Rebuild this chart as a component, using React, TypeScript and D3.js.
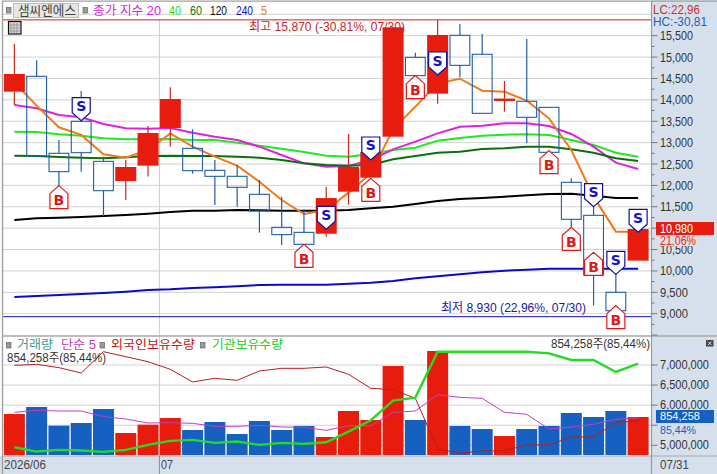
import * as d3 from "d3";

const width = 717,
	height = 474;

// 일봉 29개 (2026/06 ~ 07/31)
const opens = [14191, 14550, 12750, 13498, 12562, 12103, 12462, 13342, 12866, 12352, 12212, 11791, 11020, 10902, 10870, 11853, 12181, 13139, 14994, 14145, 15509, 15065, 14000, 13966, 13825, 12072, 11300, 9500, 10240];
const closes = [14605, 12688, 12321, 12765, 11876, 12430, 13226, 14020, 12344, 12212, 11955, 11401, 10849, 10622, 11704, 12430, 12781, 15696, 14566, 15517, 14807, 13685, 14030, 13592, 12773, 11207, 9905, 9070, 10980];
const highs = [15305, 14924, 13061, 14207, 12670, 12594, 13389, 14293, 13311, 12594, 12476, 12126, 11736, 11440, 11961, 13202, 12900, 15696, 15100, 15870, 15774, 15540, 14441, 15423, 13825, 12165, 11503, 9928, 10980];
const lows = [13880, 12688, 11994, 12321, 11284, 11658, 12205, 12905, 12274, 11541, 11502, 10895, 10606, 10622, 10800, 11549, 12181, 13139, 14566, 13910, 14527, 13685, 13724, 12984, 12773, 10996, 9190, 8930, 10240];

const ma5 = [14410, 13864, 13358, 13180, 12727, 12649, 12828, 13217, 12906, 12672, 12461, 12087, 11659, 11331, 11425, 11830, 12282, 13311, 13841, 14386, 14495, 14215, 14192, 13981, 13568, 12827, 11737, 10919, 10919];
const ma20 = [13880, 13802, 13646, 13591, 13435, 13334, 13326, 13342, 13233, 13139, 13061, 12905, 12710, 12516, 12438, 12453, 12594, 12843, 13022, 13217, 13373, 13396, 13451, 13451, 13389, 13202, 12905, 12531, 12383];
const ma40 = [13256, 13249, 13194, 13163, 13101, 13077, 13077, 13085, 13061, 13061, 12999, 12929, 12859, 12781, 12695, 12672, 12734, 12828, 12882, 13046, 13108, 13163, 13186, 13194, 13178, 13061, 12945, 12765, 12672];
const ma60 = [12695, 12687, 12664, 12648, 12633, 12656, 12687, 12695, 12687, 12687, 12672, 12648, 12594, 12516, 12477, 12461, 12477, 12610, 12687, 12765, 12789, 12851, 12867, 12906, 12906, 12843, 12765, 12633, 12571];
const ma120 = [11191, 11230, 11246, 11261, 11285, 11308, 11339, 11378, 11409, 11409, 11425, 11417, 11409, 11409, 11409, 11425, 11464, 11503, 11565, 11635, 11682, 11705, 11736, 11768, 11799, 11807, 11760, 11705, 11705];
const ma240 = [9390, 9414, 9437, 9461, 9484, 9515, 9554, 9570, 9601, 9616, 9640, 9671, 9679, 9679, 9679, 9702, 9725, 9764, 9827, 9874, 9920, 9967, 10006, 10029, 10053, 10053, 10053, 10053, 10053];

// 거래량, 단순 5
const volumes = [921000, 1079000, 659000, 719000, 1034000, 495000, 682000, 832000, 562000, 742000, 472000, 764000, 562000, 652000, 405000, 989000, 787000, 2001000, 787000, 2338000, 652000, 584000, 427000, 584000, 652000, 944000, 854258, 989000, 854258];
const volMa5 = [959000, 1004000, 989000, 989000, 862000, 809000, 719000, 727000, 712000, 644000, 644000, 667000, 629000, 622000, 554000, 659000, 659000, 959000, 989000, 1356000, 1296000, 1274000, 959000, 914000, 584000, 629000, 689000, 802000, 839000];

// 보유수량
const foreignHold = [6991700, 7016600, 6933700, 6801000, 7331700, 7207300, 7082900, 6892200, 6577000, 6668300, 6618600, 6850700, 6917100, 6917100, 6950200, 6767800, 6419600, 6386400, 6170800, 4910400, 4802600, 4860600, 4860600, 5009900, 5009900, 5208900, 5208900, 5565500, 5606900];
const instHold = [4951800, 4844000, 4885500, 4869000, 4835800, 4885500, 5009900, 5109400, 5134300, 5059700, 5092800, 5009900, 5059700, 5034800, 5076300, 5341600, 5623500, 6112800, 6187400, 7331700, 7331700, 7331700, 7331700, 7331700, 7290200, 7124400, 7124400, 6825900, 7033200];

// 매수/매도 신호 (봉 번호, 꼭지 가격)
const buyIdx = [2, 13, 16, 18, 24, 25, 26, 27];
const buyPrice = [11994, 10622, 12165, 14566, 12812, 11019, 10435, 9188];
const sellIdx = [3, 14, 16, 19, 26, 27, 28];
const sellPrice = [13513, 10973, 12594, 14581, 11503, 9920, 10903];

const priceTicks = [16000, 15500, 15000, 14500, 14000, 13500, 13000, 12500, 12000, 11500, 11000, 10500, 10000, 9500, 9000];
const priceLabels = [15500, 15000, 14500, 14000, 13500, 13000, 12500, 12000, 11500, 10500, 10000, 9500, 9000];
const holdTicks = [7000000, 6500000, 6000000, 5500000, 5000000];

const RED = "#e81c0c",
	BLUE = "#1560c0",
	FONT = "Liberation Sans, Noto Sans CJK KR, sans-serif";

const plotRight = 651.5;

const x = d3
	.scaleBand<number>()
	.domain(d3.range(29))
	.range([3.2, 649.3])
	.paddingInner(0.057)
	.paddingOuter(0.03);
const cx = (i: number) => (x(i) as number) + x.bandwidth() / 2;

const yPrice = d3.scaleLinear().domain([15500, 9000]).range([35.7, 313.7]);
const yHold = d3.scaleLinear().domain([7000000, 5000000]).range([365, 445.3]);
const yVol = d3.scaleLinear().domain([0, 854258]).range([455, 417]);

const num = d3.format(",");

const priceLine = (vals: number[]) =>
	d3
		.line<number>()
		.x((_, i) => cx(i))
		.y((d) => yPrice(d))(vals) as string;
const volLine = (vals: number[]) =>
	d3
		.line<number>()
		.x((_, i) => cx(i))
		.y((d) => yVol(d))(vals) as string;
const holdLine = (vals: number[]) =>
	d3
		.line<number>()
		.x((_, i) => cx(i))
		.y((d) => yHold(d))(vals) as string;

// 글자 폭을 원본에 맞춘다
const Txt = ({ x, y, w, fill = "#333", size = 12.5, anchor = "start", weight = "normal", children }: any) => (
	<text
		x={x}
		y={y}
		fill={fill}
		fontSize={size}
		fontFamily={FONT}
		fontWeight={weight}
		textAnchor={anchor}
		dominantBaseline="central"
		textLength={w}
		lengthAdjust="spacingAndGlyphs"
	>
		{children}
	</text>
);

const Marker = ({ i, price, kind }: any) => {
	const px = cx(i);
	const py = yPrice(price);
	const c = kind === "B" ? "#e01818" : "#10109a";
	// B는 꼭지가 위, S는 꼭지가 아래
	const dir = kind === "B" ? 1 : -1;
	const pts = [
		[px, py],
		[px + 9, py + dir * 8],
		[px + 9, py + dir * 23],
		[px - 9, py + dir * 23],
		[px - 9, py + dir * 8],
	];
	return (
		<g>
			<polygon points={pts.map((p) => p.join(",")).join(" ")} fill="#fff" stroke={c} strokeWidth={1.2} />
			<text
				x={px}
				y={py + dir * 14.5}
				fill={kind === "B" ? "#e01818" : "#1414c8"}
				fontSize={14}
				fontWeight="bold"
				fontFamily="DejaVu Sans, sans-serif"
				textAnchor="middle"
				dominantBaseline="central"
			>
				{kind}
			</text>
		</g>
	);
};

const Candle = ({ i }: any) => {
	const up = closes[i] >= opens[i];
	const color = up ? RED : "#1f5fa8";
	const top = yPrice(Math.max(opens[i], closes[i]));
	const bottom = yPrice(Math.min(opens[i], closes[i]));
	const left = x(i) as number;
	return (
		<g>
			<line x1={cx(i)} x2={cx(i)} y1={yPrice(highs[i])} y2={top} stroke={up ? "#c8281c" : color} strokeWidth={1.2} />
			<line x1={cx(i)} x2={cx(i)} y1={bottom} y2={yPrice(lows[i])} stroke={up ? "#c8281c" : color} strokeWidth={1.2} />
			{up ? (
				<rect x={left} y={top} width={x.bandwidth()} height={Math.max(bottom - top, 2.4)} fill={RED} />
			) : (
				<rect x={left + 0.6} y={top} width={x.bandwidth() - 1.2} height={bottom - top} fill="none" stroke={color} strokeWidth={1.1} />
			)}
		</g>
	);
};

const Square = ({ x, y }: any) => <rect x={x} y={y} width={4.5} height={5.5} fill="#9a9a9a" stroke="#666" strokeWidth={0.7} />;

export default function App() {
	return (
		<svg width={width} height={height} style={{ position: "fixed", left: 0, top: 0, display: "block", background: "#fff" }}>
			{/* 오른쪽, 아래 축 배경 */}
			<rect x={plotRight} y={0} width={width - plotRight} height={height} fill="#d6e0ec" />
			<rect x={0} y={456} width={width} height={18} fill="#d6e0ec" />
			<rect x={plotRight} y={337} width={width - plotRight} height={119} fill="#d6e0ec" />

			{/* 격자 */}
			{priceTicks.map((t) => (
				<line key={t} x1={3} x2={plotRight} y1={yPrice(t)} y2={yPrice(t)} stroke="#d2d2d2" strokeWidth={1} />
			))}
			{holdTicks.map((t) => (
				<line key={t} x1={3} x2={plotRight} y1={yHold(t)} y2={yHold(t)} stroke="#d2d2d2" strokeWidth={1} />
			))}
			<line x1={159.4} x2={159.4} y1={20} y2={456} stroke="#cfcfcf" strokeWidth={1} />

			{/* 최고, 최저 */}
			<line x1={3} x2={plotRight} y1={yPrice(15870)} y2={yPrice(15870)} stroke="#c82020" strokeWidth={1} />
			<line x1={3} x2={plotRight} y1={yPrice(8930)} y2={yPrice(8930)} stroke="#1010a8" strokeWidth={1} />

			{/* 이동평균 */}
			<path d={priceLine(ma240)} fill="none" stroke="#0a0acc" strokeWidth={2} />
			<path d={priceLine(ma120)} fill="none" stroke="#000" strokeWidth={2} />
			<path d={priceLine(ma40)} fill="none" stroke="#22e822" strokeWidth={2} />
			<path d={priceLine(ma20)} fill="none" stroke="#e020e0" strokeWidth={2} />
			<path d={priceLine(ma60)} fill="none" stroke="#0a700a" strokeWidth={2} />
			<path d={priceLine(ma5)} fill="none" stroke="#ee7a1c" strokeWidth={2} />

			{/* 캔들 */}
			{opens.map((_, i) => (
				<Candle key={i} i={i} />
			))}

			{buyIdx.map((d, i) => (
				<Marker key={i} i={d} price={buyPrice[i]} kind="B" />
			))}
			{sellIdx.map((d, i) => (
				<Marker key={i} i={d} price={sellPrice[i]} kind="S" />
			))}

			<Txt x={249} y={27} w={156} fill="#c02828">
				최고 15,870 (-30,81%, 07/30)
			</Txt>
			<Txt x={441} y={308} w={145} fill="#1a1a9a">
				최저 8,930 (22,96%, 07/30)
			</Txt>

			{/* 거래량 */}
			{volumes.map((v, i) => (
				<rect
					key={i}
					x={x(i) as number}
					y={yVol(v)}
					width={x.bandwidth()}
					height={yVol(0) - yVol(v)}
					fill={closes[i] >= opens[i] ? RED : BLUE}
				/>
			))}
			<path d={volLine(volMa5)} fill="none" stroke="#c040c0" strokeWidth={1} />
			<path d={holdLine(foreignHold)} fill="none" stroke="#b81c1c" strokeWidth={1} />
			<path d={holdLine(instHold)} fill="none" stroke="#22dd22" strokeWidth={2.4} />

			{/* 패널 테두리 */}
			<line x1={2.5} x2={2.5} y1={1} y2={474} stroke="#a0a0a0" strokeWidth={1.4} />
			<line x1={2} x2={width} y1={1.2} y2={1.2} stroke="#a0a0a0" strokeWidth={1.2} />
			<line x1={2} x2={width} y1={336} y2={336} stroke="#a8a8a8" strokeWidth={1.4} />
			<line x1={2} x2={width} y1={456} y2={456} stroke="#a8a8a8" strokeWidth={1.2} />
			<line x1={plotRight} x2={plotRight} y1={1} y2={474} stroke="#909aa8" strokeWidth={1.2} />
			<line x1={159.4} x2={159.4} y1={456} y2={474} stroke="#8a8a8a" strokeWidth={1} />

			{/* 상단 범례 */}
			<Square x={6.5} y={7.5} />
			<rect x={13.5} y={3.5} width={65} height={14} fill="#e6e6e6" stroke="#bcbcbc" />
			<Txt x={18} y={10.5} w={58} size={13} fill="#444">
				샘씨엔에스
			</Txt>
			<Square x={83} y={7.5} />
			<Txt x={93} y={10.5} w={68} fill="#e020e0">
				종가 지수 20
			</Txt>
			<Txt x={169} y={10.5} w={12} fill="#22e022">
				40
			</Txt>
			<Txt x={190} y={10.5} w={12} fill="#0a7a0a">
				60
			</Txt>
			<Txt x={210} y={10.5} w={17} fill="#111">
				120
			</Txt>
			<Txt x={236} y={10.5} w={17} fill="#1010c0">
				240
			</Txt>
			<Txt x={261} y={10.5} w={6} fill="#e08020">
				5
			</Txt>

			{/* 표 아이콘 */}
			<rect x={8.5} y={21.5} width={12.5} height={12.5} fill="#d8d8d8" stroke="#111" strokeWidth={1.2} />
			{d3.range(3).map((i) => (
				<g key={i}>
					<line x1={11 + i * 3} x2={11 + i * 3} y1={23} y2={33} stroke="#888" strokeWidth={0.7} />
					<line x1={9.5} x2={20.5} y1={25 + i * 3} y2={25 + i * 3} stroke="#888" strokeWidth={0.7} />
				</g>
			))}

			{/* 하단 범례 */}
			<Square x={6.5} y={342.5} />
			<Txt x={17} y={345} w={36} fill="#3a9a9a">
				거래량
			</Txt>
			<Txt x={61} y={345} w={35} fill="#c040c0">
				단순 5
			</Txt>
			<Square x={100} y={342.5} />
			<Txt x={111} y={345} w={84} fill="#c01818">
				외국인보유수량
			</Txt>
			<Square x={200.5} y={342.5} />
			<Txt x={212} y={345} w={71} fill="#22cc22">
				기관보유수량
			</Txt>
			<Txt x={7} y={358} w={99} fill="#333">
				854,258주(85,44%)
			</Txt>
			<Txt x={551} y={344} w={99} fill="#333">
				854,258주(85,44%)
			</Txt>

			{/* 가격축 */}
			<Txt x={653} y={9} w={47} size={13} fill="#c83028">
				LC:22,96
			</Txt>
			<Txt x={653} y={21.5} w={54} size={13} fill="#1a5fb4">
				HC:-30,81
			</Txt>
			{d3.range(8500, 15750, 250).map((t) => (
				<line
					key={t}
					x1={plotRight}
					x2={plotRight + (t % 500 === 0 ? 6 : 3)}
					y1={yPrice(t)}
					y2={yPrice(t)}
					stroke="#777"
					strokeWidth={1}
				/>
			))}
			{priceLabels.map((t) => (
				<Txt key={t} x={660} y={yPrice(t)} w={t >= 10000 ? 33 : 28} size={13} fill="#333">
					{num(t)}
				</Txt>
			))}

			<rect x={656} y={222} width={58} height={13} fill={RED} />
			<Txt x={660} y={228.5} w={33} fill="#fff">
				10,980
			</Txt>
			<rect x={658} y={235} width={40} height={11} fill="#e8dde2" />
			<Txt x={660} y={240.5} w={36} size={12} fill="#d82828">
				21,06%
			</Txt>

			{/* 보유수량축 */}
			{holdTicks.map((t) => (
				<g key={t}>
					<line x1={plotRight} x2={plotRight + 6} y1={yHold(t)} y2={yHold(t)} stroke="#777" />
					{t !== 5500000 && (
						<Txt x={660} y={yHold(t)} w={49} size={12} fill="#333">
							{num(t)}
						</Txt>
					)}
				</g>
			))}
			<rect x={656} y={410} width={58} height={13} fill={BLUE} />
			<Txt x={660} y={416} w={40} size={11.5} fill="#fff">
				854,258
			</Txt>
			<Txt x={660} y={429.5} w={36} size={11.5} fill="#1a5fb4">
				85,44%
			</Txt>

			{/* 닫기 */}
			<rect x={706} y={340} width={7.5} height={6.5} fill="#444" />
			<path d="M708 341.5L711.5 345M711.5 341.5L708 345" stroke="#fff" strokeWidth={0.8} />

			{/* 날짜축 */}
			<Txt x={4} y={464.5} w={42} fill="#444">
				2026/06
			</Txt>
			<Txt x={161} y={464.5} w={12} fill="#444">
				07
			</Txt>
			<Txt x={660} y={464.5} w={29} fill="#444">
				07/31
			</Txt>
		</svg>
	);
}
